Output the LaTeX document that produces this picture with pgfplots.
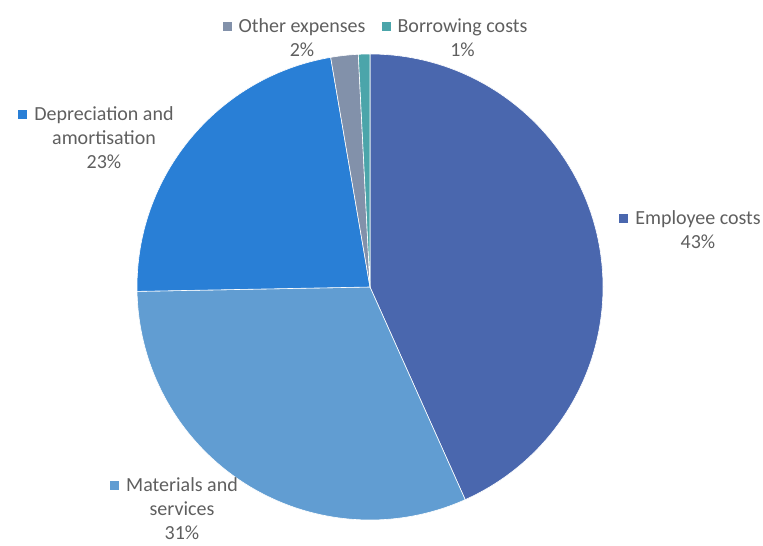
\documentclass[border=0pt]{standalone}
\usepackage{pgfplots}
\usepackage{pgfplotstable}
\pgfplotsset{compat=1.18}
\usepackage{fontspec}
\setmainfont{Carlito}
\definecolor{c0}{RGB}{74,103,174}
\definecolor{c1}{RGB}{97,157,210}
\definecolor{c2}{RGB}{41,127,214}
\definecolor{c3}{RGB}{130,145,170}
\definecolor{c4}{RGB}{75,165,170}
\definecolor{txt}{RGB}{95,95,95}
\pgfplotstableread{
label pct
Employee 43.3
Materials 31.4
Depreciation 22.6
Other 1.9
Borrowing 0.8
}\piedata
\newcommand\mk[1]{\llap{\textcolor{#1}{\raisebox{1.5bp}{\rule{9bp}{9bp}}}\hspace{7bp}}}
\begin{document}
\begin{tikzpicture}
\useasboundingbox (0,0) rectangle (763bp,546bp);
\gdef\cum{90}
\foreach \i in {0,...,4}{%
  \pgfplotstablegetelem{\i}{pct}\of\piedata
  \pgfmathsetmacro\new{\cum-3.6*\pgfplotsretval}%
  \expandafter\xdef\csname s\i\endcsname{\cum}%
  \expandafter\xdef\csname e\i\endcsname{\new}%
  \xdef\cum{\new}%
}
\begin{axis}[
  x=1bp, y=1bp, xmin=0, xmax=763, ymin=0, ymax=546,
  hide axis, clip=false, anchor=south west, at={(0,0)},
]
\pgfplotsinvokeforeach{0,...,4}{
  \fill[c#1, draw=white, line width=0.6bp, line join=round]
    (axis cs:370,259) -- ++(\csname s#1\endcsname:233bp)
    arc[start angle=\csname s#1\endcsname, end angle=\csname e#1\endcsname, radius=233bp] -- cycle;
}
\tikzset{lbl/.style={align=center, text=txt, font=\fontsize{20bp}{24bp}\selectfont, inner sep=0pt}}
\node[lbl] at (axis cs:698,316.5) {\mk{c0}Employee costs\\43\%};
\node[lbl] at (axis cs:182,37) {\mk{c1}Materials and\\services\\31\%};
\node[lbl] at (axis cs:104,408) {\mk{c2}Depreciation and\\amortisation\\23\%};
\node[lbl] at (axis cs:302,508) {\mk{c3}Other expenses\\2\%};
\node[lbl] at (axis cs:462.5,508) {\mk{c4}Borrowing costs\\1\%};
\end{axis}
\end{tikzpicture}
\end{document}
